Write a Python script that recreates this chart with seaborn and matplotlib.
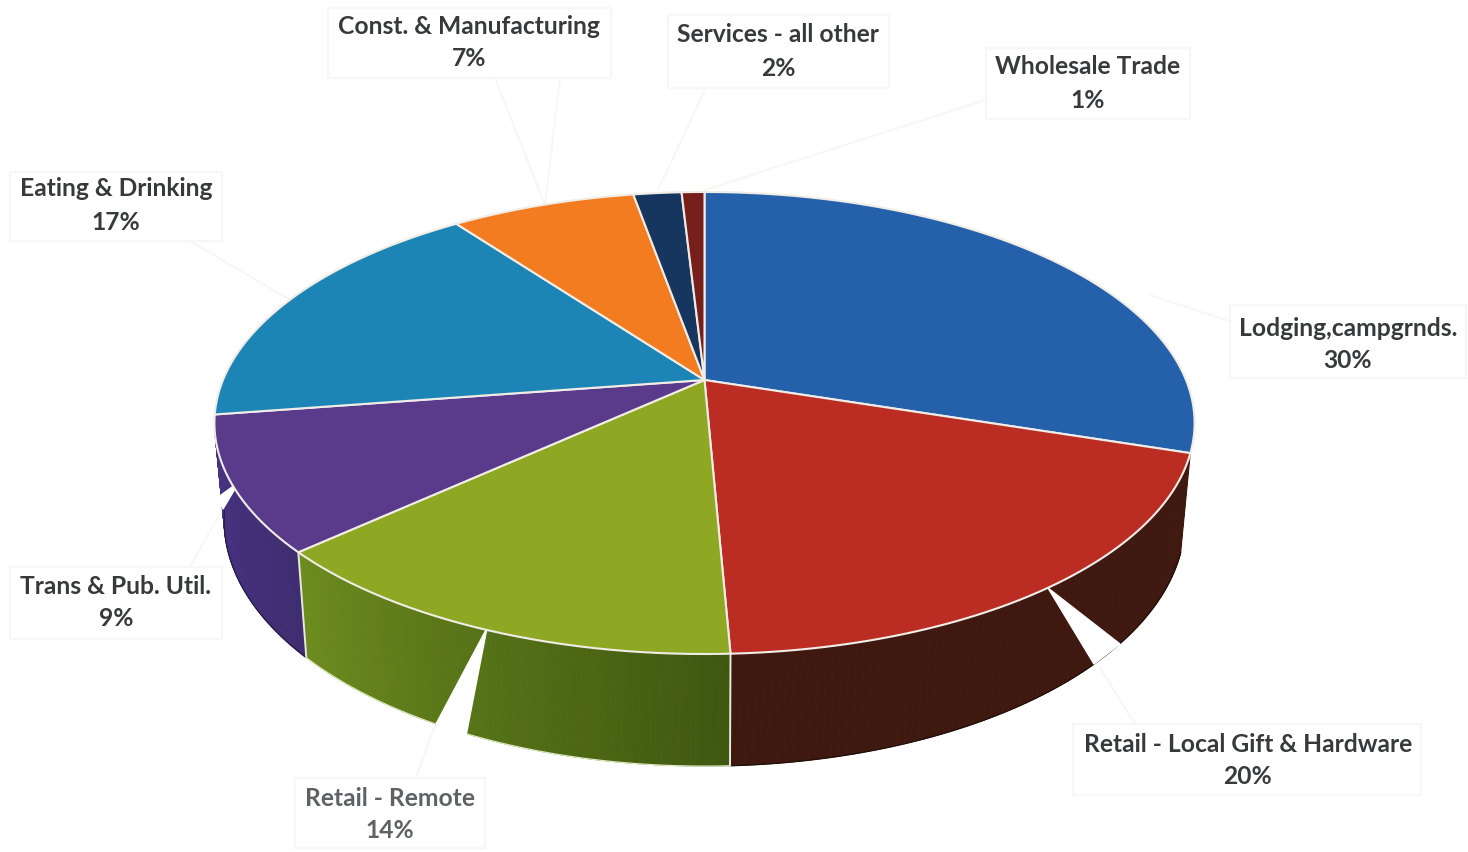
import numpy as np
import matplotlib
matplotlib.use("Agg")
import matplotlib.pyplot as plt
import seaborn as sns
from matplotlib.colors import to_rgb
from matplotlib.path import Path
from matplotlib.patches import Polygon, Rectangle
from matplotlib.collections import PolyCollection
from matplotlib.transforms import Transform, Affine2D

# ---- data -------------------------------------------------------------
categories = ["Lodging,campgrnds.", "Retail - Local Gift & Hardware", "Retail - Remote",
              "Trans & Pub. Util.", "Eating & Drinking", "Const. & Manufacturing",
              "Services - all other", "Wholesale Trade"]
shown_pct = [30, 20, 14, 9, 17, 7, 2, 1]
shares = [30.0, 19.3, 13.9, 9.4, 17.3, 7.3, 1.9, 0.9]

top_colors = ["#2560ab", "#bb2c23", "#8fa823", "#593a8b", "#1c85b6", "#f47c20", "#17365f", "#761f1b"]
wall_light = ["#1a4378", "#3f1810", "#6d8c1e", "#4a3588", "#145d80", "#aa5716", "#102643", "#521613"]
wall_dark = ["#1a4378", "#3f1810", "#3f5810", "#3e2c70", "#145d80", "#aa5716", "#102643", "#521613"]
wall_edge = ["#1c1008", "#1c1008", "#dfe8c0", "#241a45", "#1c1008", "#1c1008", "#1c1008", "#1c1008"]

# label centre x, line-1 y, line-2 y, box (x0, y0, x1, y1)
label_x = [1348, 1248, 390, 116, 116, 469, 778, 1088]
label_y1 = [328, 745, 798, 586, 189, 27, 35, 67]
label_y2 = [360, 777, 830, 619, 222, 59, 68, 100]
boxes = [(1230, 305, 1466, 378), (1073, 724, 1421, 795), (295, 778, 485, 848),
         (10, 567, 222, 639), (10, 172, 222, 241), (328, 8, 611, 78),
         (668, 15, 889, 88), (986, 48, 1190, 119)]
text_colors = ["#38393b"] * 8
text_colors[2] = "#5f6164"

# faint white-out left by the label leader lines
leader_gaps = [[(1048, 588), (1120, 644), (1094, 664)],
               [(487, 628), (436, 724), (466, 736)],
               [(239, 482), (217, 498), (223, 509)]]
leaders = [[(1150, 295), (1232, 322)], [(1100, 668), (1135, 724)], [(435, 725), (415, 780)],
           [(222, 510), (190, 567)], [(190, 241), (290, 300)], [(495, 78), (545, 205)],
           [(560, 78), (545, 205)], [(705, 90), (658, 190)], [(985, 100), (705, 190)]]


class Perspective(Transform):
    """Projects the unit disc of the pie onto a tilted plane."""
    input_dims = output_dims = 2

    def __init__(self, cx, cy, ax_, by, k):
        super().__init__()
        self.p = (cx, cy, ax_, by, k)

    def transform_non_affine(self, xy):
        xy = np.asarray(xy, float)
        cx, cy, a, b, k = self.p
        w = 1 + k * xy[:, 1]
        return np.column_stack([cx + a * xy[:, 0] / w, (cy + b * xy[:, 1]) / w])

    def transform_path_non_affine(self, path):
        big = path.transformed(Affine2D().scale(2000))
        polys = big.to_polygons(closed_only=False)
        verts = np.vstack(polys) / 2000
        return Path(self.transform_non_affine(verts))


K = 0.18615
top_plane = Perspective(704.5, 380, 481.5, -152.26, K)
bottom_plane = Perspective(704.5, 474.3, 472, -149.2, K)

sns.set_theme(style="white")
plt.rcParams["font.family"] = ["Lato", "DejaVu Sans"]
fig, ax = plt.subplots(figsize=(14.68, 8.52), dpi=100)
fig.subplots_adjust(0, 0, 1, 1)

wedges, _ = ax.pie(shares, startangle=90, counterclock=False,
                   colors=sns.color_palette(top_colors),
                   wedgeprops=dict(edgecolor="#f0ece6", linewidth=1.5, zorder=3))
ax.set_aspect("auto")
ax.set_xlim(0, 1468)
ax.set_ylim(852, 0)
ax.axis("off")
for w in wedges:
    w.set_transform(top_plane + ax.transData)

# side wall of the slices on the near half, built from the slice's own angles
for w, c0, c1, ec in zip(wedges, wall_light, wall_dark, wall_edge):
    if np.sin(np.radians((w.theta1 + w.theta2) / 2)) >= 0:
        continue
    th = np.radians(np.linspace(w.theta1, w.theta2, 90))
    unit = np.column_stack([np.cos(th), np.sin(th)])
    up = top_plane.transform_non_affine(unit)
    lo = bottom_plane.transform_non_affine(unit)
    quads = [[up[i], up[i + 1], lo[i + 1], lo[i]] for i in range(len(th) - 1)]
    t = np.linspace(0, 1, len(quads))[:, None]
    cols = np.array(to_rgb(c0)) * (1 - t) + np.array(to_rgb(c1)) * t
    ax.add_collection(PolyCollection(quads, facecolors=cols, edgecolors=cols,
                                     linewidths=0.6, zorder=1))
    ax.plot(lo[:, 0], lo[:, 1], color=ec, lw=0.9, zorder=1.1)
    if unit[0, 1] < -0.5:
        ax.plot([up[0, 0], lo[0, 0]], [up[0, 1], lo[0, 1]], color="#e8e8e0", lw=1.4, zorder=1.2)

for gap in leader_gaps:
    ax.add_patch(Polygon(gap, closed=True, fc="white", ec="white", lw=1, zorder=2))

# leader lines and label boxes, nearly white
for (x0, y0), (x1, y1) in leaders:
    ax.plot([x0, x1], [y0, y1], color="#f7f7f7", lw=1.5, zorder=0.5)
for (x0, y0, x1, y1) in boxes:
    ax.add_patch(Rectangle((x0, y0), x1 - x0, y1 - y0, fc="white", ec="#f7f7f7", lw=1.5, zorder=2.5))

for name, pct, x, y1, y2, col in zip(categories, shown_pct, label_x, label_y1, label_y2, text_colors):
    ax.text(x, y1, name, ha="center", va="center", fontsize=17.7, fontweight="bold", color=col, zorder=5)
    ax.text(x, y2, f"{pct}%", ha="center", va="center", fontsize=17.7, fontweight="bold", color=col, zorder=5)

fig.savefig("out.png", dpi=100, facecolor="white")
